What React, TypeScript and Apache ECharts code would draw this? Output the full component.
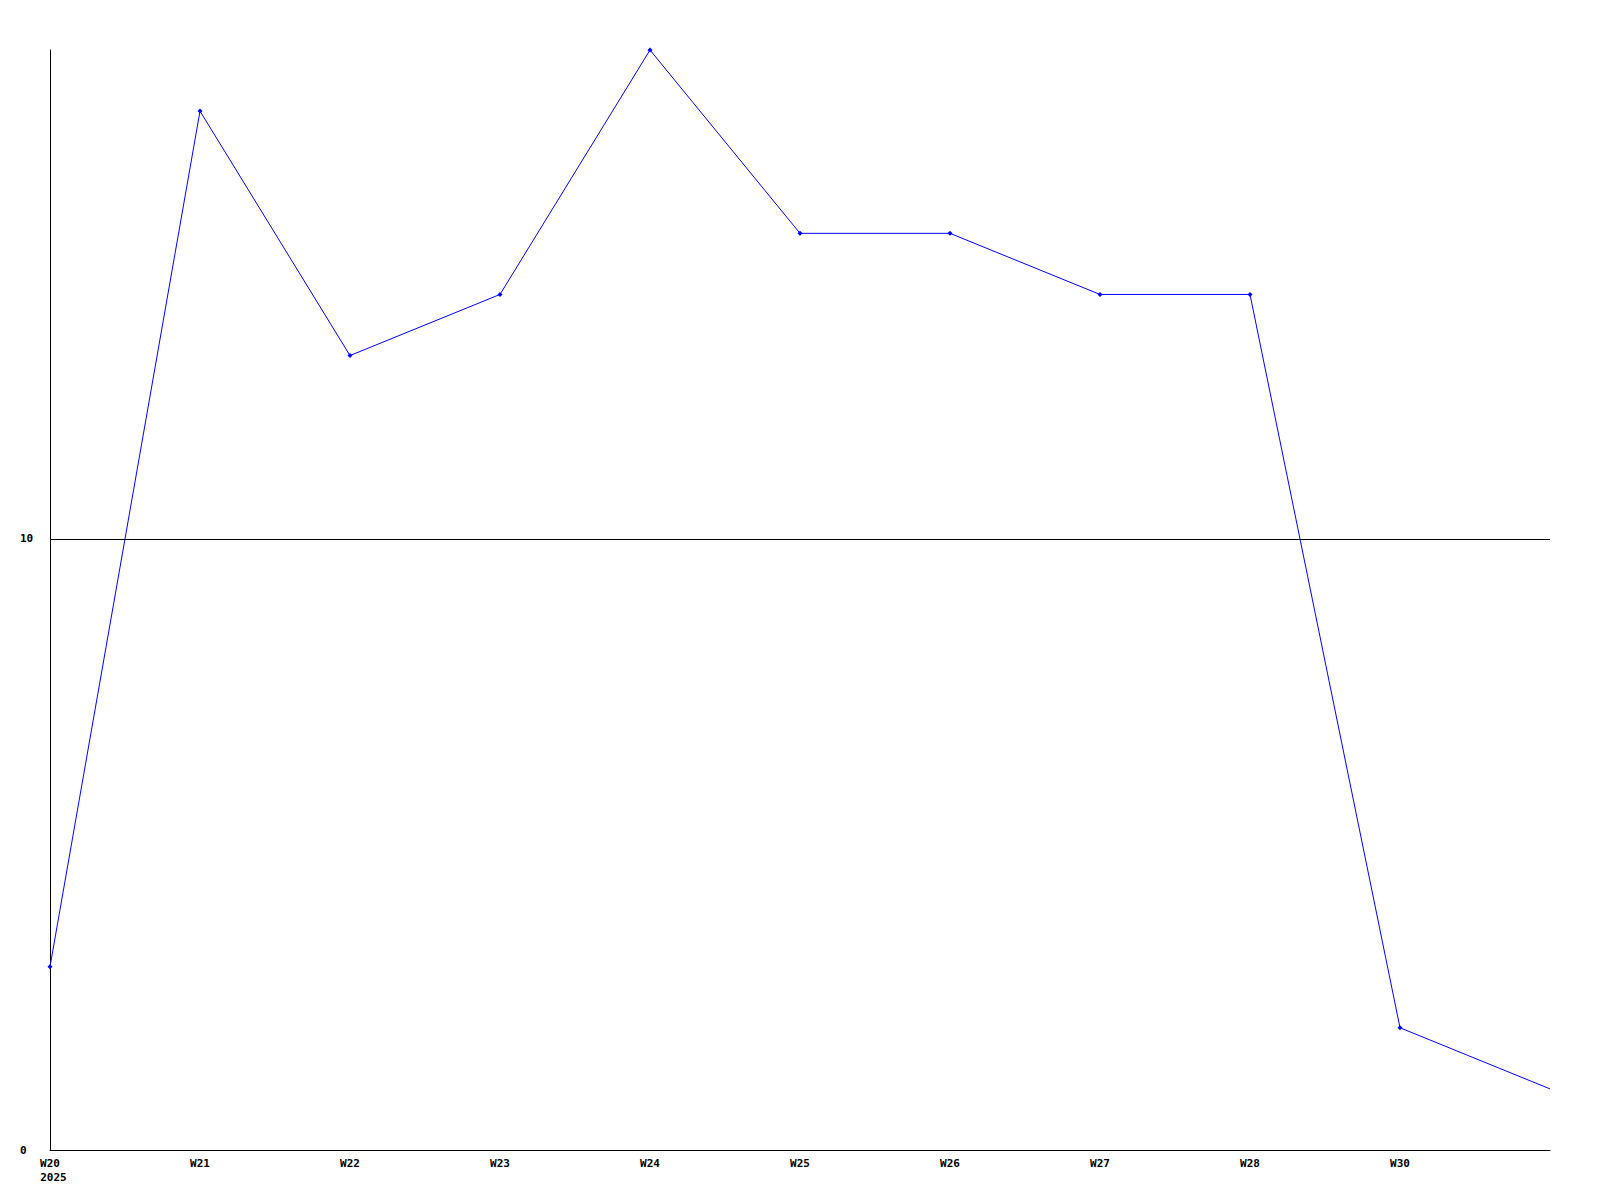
import React, { useEffect, useRef } from "react";
import * as echarts from "echarts";

const weekLabels = ["W20", "W21", "W22", "W23", "W24", "W25", "W26", "W27", "W28", "W30", ""];
const yearLabel = "2025";
const values = [3, 17, 13, 14, 18, 15, 15, 14, 14, 2, 1];
const yMin = 0;
const yMax = 18;
const yInterval = 10;
const refLineValue = 10;

const FONT = "'DejaVu Sans Mono', 'Liberation Mono', monospace";

export default function App() {
  const ref = useRef<HTMLDivElement>(null);
  useEffect(() => {
    if (!ref.current) return;
    const chart = echarts.init(ref.current, undefined, { renderer: "svg" });
    const seriesData = values.map((v, i) =>
      i === values.length - 1 ? { value: v, symbol: "none" } : v
    );
    chart.setOption({
      animation: false,
      backgroundColor: "#ffffff",
      grid: { left: 50, right: 50, top: 50, bottom: 50, containLabel: false },
      xAxis: {
        type: "category",
        data: weekLabels,
        boundaryGap: false,
        axisLine: { show: true, lineStyle: { color: "#000", width: 1 } },
        axisTick: { show: false },
        splitLine: { show: false },
        axisLabel: {
          show: true,
          interval: 0,
          margin: 6,
          color: "#000",
          fontFamily: FONT,
          fontWeight: "bold",
          fontSize: 11,
          lineHeight: 14,
          formatter: (val: string, idx: number) =>
            idx === 0 ? `{w|${val}}\n{y|${yearLabel}}` : val,
          rich: {
            w: {
              color: "#000",
              fontFamily: FONT,
              fontWeight: "bold",
              fontSize: 11,
              lineHeight: 14,
            },
            y: {
              color: "#000",
              fontFamily: FONT,
              fontWeight: "bold",
              fontSize: 11,
              lineHeight: 14,
              padding: [0, 0, 0, 7],
            },
          },
        },
      },
      yAxis: {
        type: "value",
        min: yMin,
        max: yMax,
        interval: yInterval,
        axisLine: { show: true, lineStyle: { color: "#000", width: 1 } },
        axisTick: { show: false },
        splitLine: { show: false },
        axisLabel: {
          show: true,
          showMaxLabel: false,
          align: "left",
          margin: 30,
          color: "#000",
          fontFamily: FONT,
          fontWeight: "bold",
          fontSize: 11,
        },
      },
      series: [
        {
          type: "line",
          data: seriesData,
          symbol: "diamond",
          symbolSize: 5,
          showSymbol: true,
          lineStyle: { color: "#0000ff", width: 1 },
          itemStyle: { color: "#0000ff" },
          markLine: {
            silent: true,
            symbol: ["none", "none"],
            label: { show: false },
            lineStyle: { color: "#000", width: 1, type: "solid" },
            data: [{ yAxis: refLineValue }],
          },
          z: 3,
        },
      ],
    });
    return () => chart.dispose();
  }, []);
  return (
    <div
      ref={ref}
      style={{ position: "fixed", left: 0, top: 0, width: 1600, height: 1200 }}
    />
  );
}
